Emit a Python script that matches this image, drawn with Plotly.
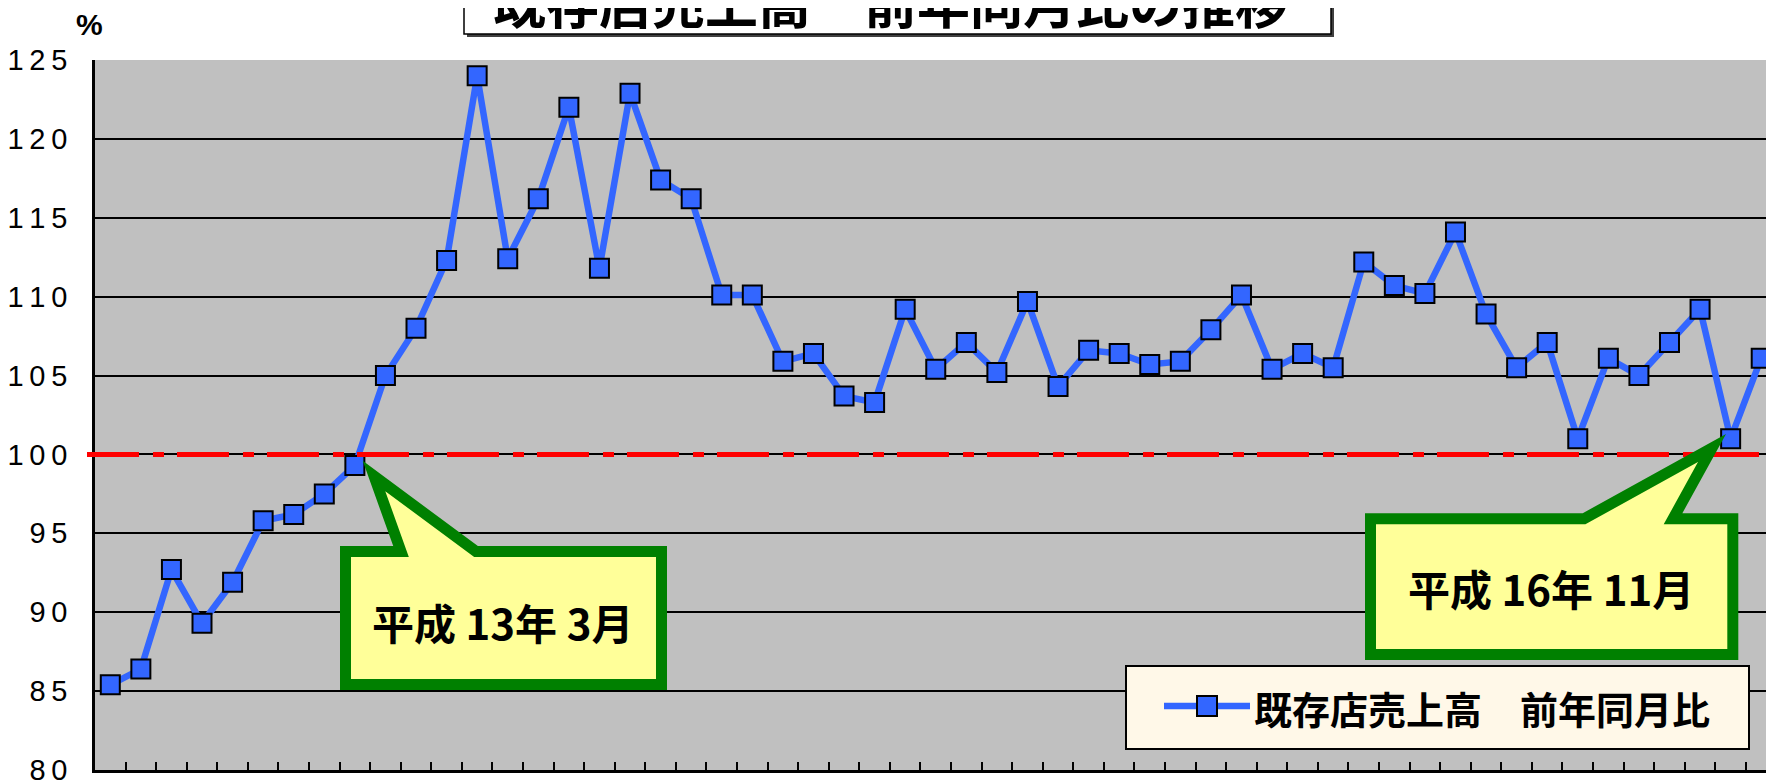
import plotly.graph_objects as go

# ---------------- data ----------------
# months (平成12年7月 .. 平成17年1月), one point per month
month_labels = [f"H{12 + (6 + i) // 12}.{(6 + i) % 12 + 1}" for i in range(55)]
sales_yoy = [
    85.4, 86.4, 92.7, 89.3, 91.9, 95.8, 96.2, 97.5, 99.3, 105.0,
    108.0, 112.3, 124.0, 112.4, 116.2, 122.0, 111.8, 122.9, 117.4, 116.2,
    110.1, 110.1, 105.9, 106.4, 103.7, 103.3, 109.2, 105.4, 107.1, 105.2,
    109.7, 104.3, 106.6, 106.4, 105.7, 105.9, 107.9, 110.1, 105.4, 106.4,
    105.5, 112.2, 110.7, 110.2, 114.1, 108.9, 105.5, 107.1, 101.0, 106.1,
    105.0, 107.1, 109.2, 101.0, 106.1,
]
series_name = "既存店売上高　前年同月比"
title_text = "既存店売上高　前年同月比の推移"
y_unit = "%"
y_ticks = [80, 85, 90, 95, 100, 105, 110, 115, 120, 125]
y_tick_labels = ["\u2009".join(str(v)) for v in y_ticks]
baseline = 100
callout1_text = "平成 13年 3月"
callout2_text = "平成 16年 11月"

# ---------------- layout helpers (screen pixel -> paper) ----------------
W, H = 1774, 782
PAGE = 8                      # page (body) offset of the figure in the browser
ML, MR, MT, MB = 87, 0, 52, 20
PW, PH = W - ML - MR, H - MT - MB


def px(x):
    return (x - PAGE - ML) / PW


def py(y):
    return (H - MB - (y - PAGE)) / PH


def path(points):
    return "M " + " L ".join(f"{px(x):.5f},{py(y):.5f}" for x, y in points) + " Z"


BLUE = "#3366FF"
GREEN = "#008000"
YELLOW = "#FFFF99"
CJK = "Noto Sans CJK JP"

fig = go.Figure()
fig.add_trace(go.Scatter(
    x=month_labels, y=sales_yoy, mode="lines+markers", name=series_name,
    line=dict(color=BLUE, width=6.5),
    marker=dict(symbol="square", size=19, color=BLUE, line=dict(color="black", width=2)),
    showlegend=False,
))

shapes = []
# red 100% reference line (dash-dot)
shapes.append(dict(type="line", xref="paper", yref="y", x0=px(87), x1=px(1762),
                   y0=baseline, y1=baseline, layer="above",
                   line=dict(color="#FF0000", width=5, dash="52px,14px,11px,13px")))
# title box with shadow
shapes.append(dict(type="rect", xref="paper", yref="paper", x0=px(467), x1=px(1334),
                   y0=py(37), y1=py(-80), fillcolor="#404040", line=dict(width=0), layer="above"))
shapes.append(dict(type="rect", xref="paper", yref="paper", x0=px(464), x1=px(1331),
                   y0=py(34), y1=py(-80), fillcolor="white",
                   line=dict(color="black", width=1.5), layer="above"))
# callout 1
c1 = [(345.5, 551.5), (401, 551.5), (374, 476), (476, 551.5), (661.5, 551.5),
      (661.5, 684.5), (345.5, 684.5)]
shapes.append(dict(type="path", xref="paper", yref="paper", path=path(c1),
                   fillcolor=YELLOW, line=dict(color=GREEN, width=11), layer="above"))
# callout 2
c2 = [(1370.5, 518.8), (1584, 518.8), (1712, 448), (1673, 518.8), (1732.8, 518.8),
      (1732.8, 654.5), (1370.5, 654.5)]
shapes.append(dict(type="path", xref="paper", yref="paper", path=path(c2),
                   fillcolor=YELLOW, line=dict(color=GREEN, width=11), layer="above"))
# custom legend
shapes.append(dict(type="rect", xref="paper", yref="paper", x0=px(1126), x1=px(1749),
                   y0=py(749), y1=py(666), fillcolor="#FFF8E8",
                   line=dict(color="black", width=2), layer="above"))
shapes.append(dict(type="line", xref="paper", yref="paper", x0=px(1164), x1=px(1250),
                   y0=py(706), y1=py(706), line=dict(color=BLUE, width=6.5), layer="above"))
shapes.append(dict(type="rect", xref="paper", yref="paper", x0=px(1197), x1=px(1217),
                   y0=py(716), y1=py(696), fillcolor=BLUE,
                   line=dict(color="black", width=2), layer="above"))

annotations = [
    dict(text=f"<b>{title_text}</b>", xref="paper", yref="paper", x=px(890), y=py(1),
         xanchor="center", yanchor="middle", showarrow=False,
         font=dict(family=CJK, size=53, color="black")),
    dict(text=f"<b>{y_unit}</b>", xref="paper", yref="paper", x=px(89), y=py(24),
         xanchor="center", yanchor="middle", showarrow=False,
         font=dict(family="Liberation Sans", size=30, color="black")),
    dict(text=f"<b>{callout1_text}</b>", xref="paper", yref="paper", x=px(502), y=py(621),
         xanchor="center", yanchor="middle", showarrow=False,
         font=dict(family=CJK, size=42, color="black")),
    dict(text=f"<b>{callout2_text}</b>", xref="paper", yref="paper", x=px(1551), y=py(587),
         xanchor="center", yanchor="middle", showarrow=False,
         font=dict(family=CJK, size=42, color="black")),
    dict(text=f"<b>{series_name}</b>", xref="paper", yref="paper", x=px(1252), y=py(707),
         xanchor="left", yanchor="middle", showarrow=False,
         font=dict(family=CJK, size=38, color="black")),
]

fig.update_layout(
    width=W, height=H,
    margin=dict(l=ML, r=MR, t=MT, b=MB, autoexpand=False),
    paper_bgcolor="white", plot_bgcolor="#C0C0C0",
    showlegend=False,
    shapes=shapes, annotations=annotations,
    xaxis=dict(type="category", range=[-0.5, 54.68], showticklabels=False,
               ticks="inside", tickson="boundaries", ticklen=8, tickwidth=2,
               tickcolor="black", showgrid=False, showline=True,
               linecolor="black", linewidth=3, zeroline=False),
    yaxis=dict(range=[80, 125], tickmode="array", tickvals=y_ticks,
               ticktext=y_tick_labels, showgrid=True, gridcolor="black",
               gridwidth=1.5, showline=True, linecolor="black", linewidth=2.5,
               zeroline=False, ticks="", ticklabelstandoff=19,
               tickfont=dict(family="Liberation Sans", size=29, color="black")),
)

fig.write_html("out.html")
